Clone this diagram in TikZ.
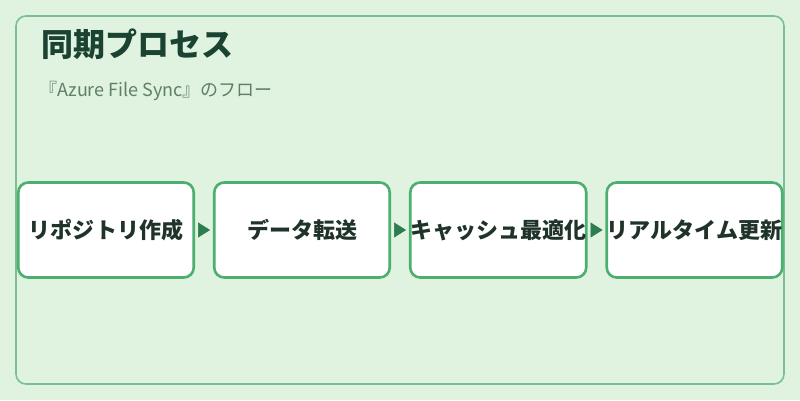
\documentclass[tikz,border=0pt]{standalone}
\usepackage{fontspec}
\usepackage{xcolor}
\usetikzlibrary{arrows.meta, positioning}
\newfontfamily\jpfont{Noto Sans CJK JP}
\definecolor{bgGreen}{HTML}{E0F2E0}
\definecolor{frameGreen}{HTML}{7DBF93}
\definecolor{boxGreen}{HTML}{4CAF70}
\definecolor{tipGreen}{HTML}{2E7D4F}
\definecolor{titleGreen}{HTML}{1B4332}
\definecolor{textDark}{HTML}{1F3328}
\definecolor{subGray}{HTML}{5F7F66}

\begin{document}
\begin{tikzpicture}[x=1bp, y=1bp,
    stage/.style={draw=boxGreen, line width=2.6bp, fill=white, rounded corners=10bp,
        minimum width=175.5bp, minimum height=95bp, inner sep=0pt,
        font=\jpfont\bfseries\fontsize{22bp}{26bp}\selectfont, text=textDark},
    flow/.style={draw=tipGreen, fill=tipGreen, line width=0.5bp,
        -{Triangle[length=12bp, width=15bp]}, shorten <=3bp, shorten >=2.9bp}]
    % Canvas
    \useasboundingbox (0,0) rectangle (800,400);
    \fill[bgGreen] (0,0) rectangle (800,400);
    \draw[frameGreen, line width=1.6bp, rounded corners=10bp] (16,16) rectangle (784,384);

    % Title
    \node[anchor=base west, inner sep=0pt, text=titleGreen,
        font=\jpfont\bfseries\fontsize{32bp}{36bp}\selectfont] (title) at (41,343.5) {同期プロセス};
    \node[anchor=base west, inner sep=0pt, text=subGray,
        font=\jpfont\fontsize{18bp}{22bp}\selectfont] (subtitle) at (39.5,304) {『Azure File Sync』のフロー};

    % Stages
    \node[stage] (repo) at (106,170) {リポジトリ作成};
    \node[stage, right=17.9bp of repo] (transfer) {データ転送};
    \node[stage, right=17.9bp of transfer] (cache) {キャッシュ最適化};
    \node[stage, right=17.9bp of cache] (realtime) {リアルタイム更新};

    % Arrows
    \draw[flow] (repo) -- (transfer);
    \draw[flow] (transfer) -- (cache);
    \draw[flow] (cache) -- (realtime);
\end{tikzpicture}
\end{document}
